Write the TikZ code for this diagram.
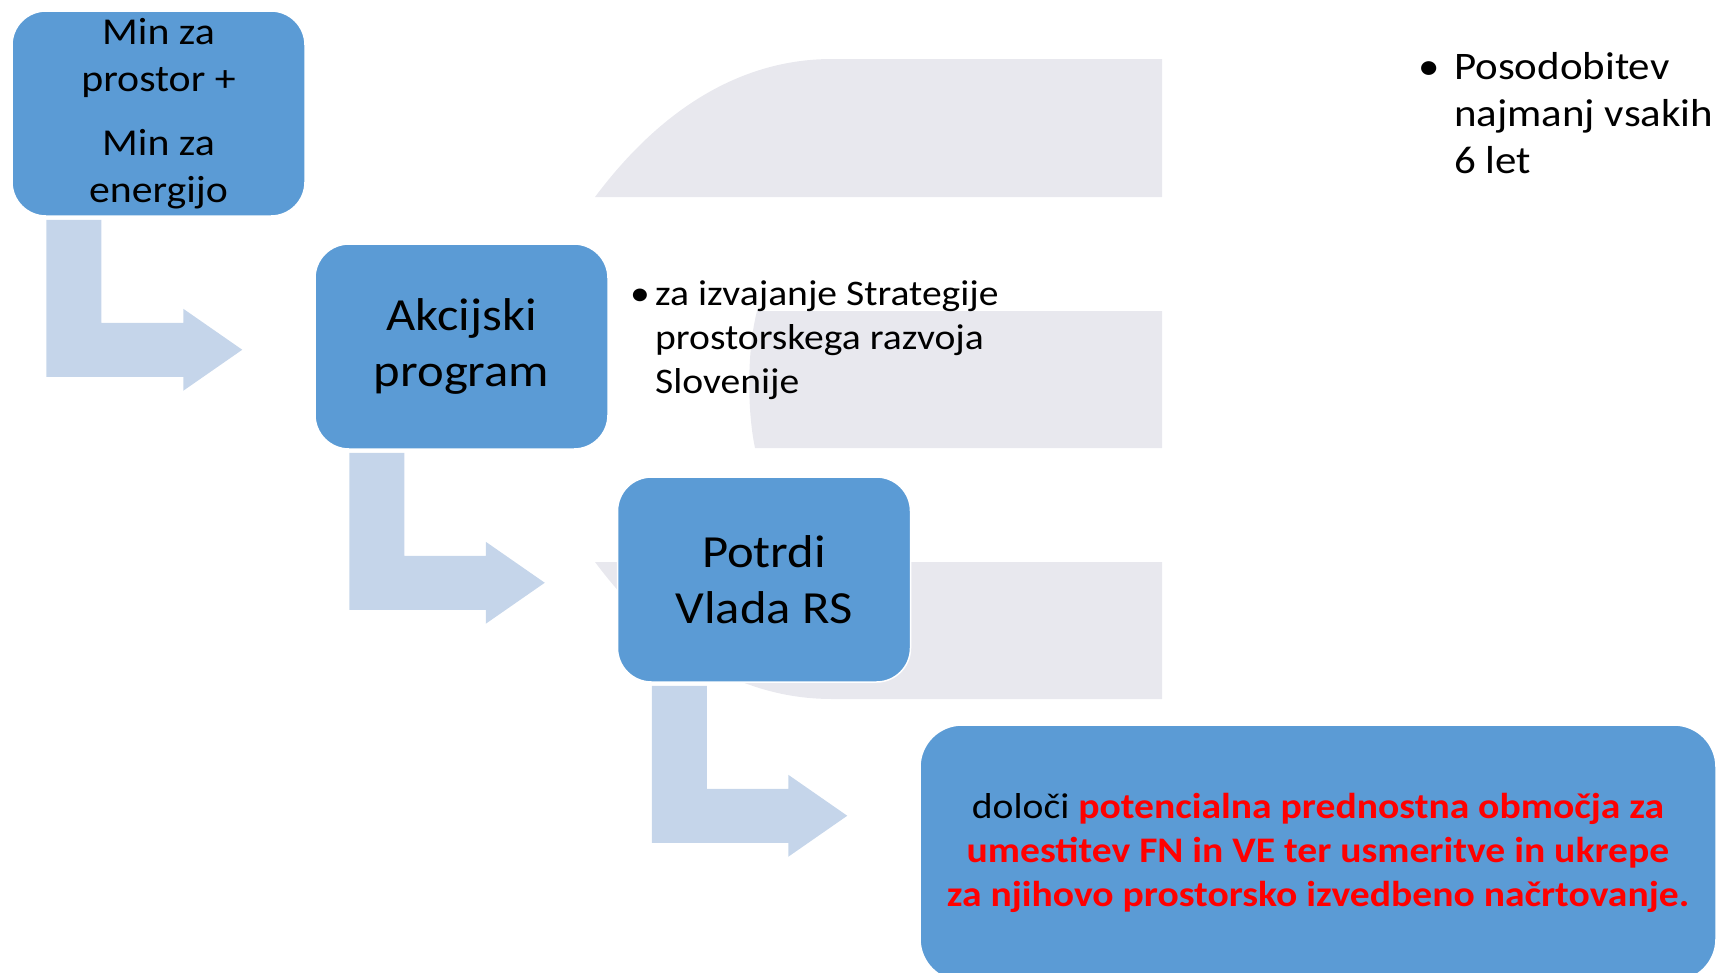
\documentclass[tikz,border=0pt]{standalone}
\usepackage{fontspec}
\setmainfont{Carlito}[FakeStretch=1.1]
\usetikzlibrary{calc}

\definecolor{boxblue}{RGB}{91,155,213}
\definecolor{arrowblue}{RGB}{197,213,234}
\definecolor{logogray}{RGB}{232,232,238}

% bent arrow from under one box to the left side of the next one
\newcommand\bendarrow[2]{%
  \fill[arrowblue] let \p1=(#1.south west), \p2=(#2.west) in
    (\x1+35pt,\y1-3pt) -- (\x1+90pt,\y1-3pt) -- (\x1+90pt,\y1-106pt)
    -- (\x2-131pt,\y1-106pt) -- (\x2-131pt,\y1-92pt) -- (\x2-72pt,\y1-133pt)
    -- (\x2-131pt,\y1-174pt) -- (\x2-131pt,\y1-160pt) -- (\x1+35pt,\y1-160pt) -- cycle;}

\begin{document}
\begin{tikzpicture}[x=1pt, y=-1pt,
  stage/.style={draw=white, line width=1.5pt, fill=boxblue, rounded corners=34pt,
    minimum width=293pt, minimum height=205pt, inner sep=0pt, align=center}]

  \useasboundingbox (0,0) rectangle (1716,972);
  \clip (0,0) rectangle (1716,972);

  % faded logo behind
  \fill[logogray] (595,197) .. controls (660,110) and (740,59) .. (832,59) -- (1162,59) -- (1162,197) -- cycle;
  \fill[logogray] (757,311) -- (1162,311) -- (1162,448) -- (755,448) .. controls (747,410) and (747,350) .. (757,311) -- cycle;
  \fill[logogray] (595,562) .. controls (660,649) and (740,699) .. (832,699) -- (1162,699) -- (1162,562) -- cycle;

  \node[stage, font=\fontsize{38}{47}\selectfont] (mins) at (158.5,113.5)
    {Min za\\prostor +\\[17pt]Min za\\energijo};
  \node[stage, font=\fontsize{46}{56}\selectfont] (akcija) at (461.5,346.5)
    {Akcijski\\program};
  \node[stage, font=\fontsize{46}{56}\selectfont] (vlada) at (764,579.5)
    {Potrdi\\Vlada RS};
  \node[stage, rounded corners=42pt, minimum width=796pt, minimum height=256pt,
    font=\fontsize{36}{44}\selectfont] (obmocja) at (1318,853)
    {določi \textcolor{red}{\bfseries potencialna prednostna območja za}\\
     \textcolor{red}{\bfseries umestitev FN in VE ter usmeritve in ukrepe}\\
     \textcolor{red}{\bfseries za njihovo prostorsko izvedbeno načrtovanje.}};

  \bendarrow{mins}{akcija}
  \bendarrow{akcija}{vlada}
  \bendarrow{vlada}{obmocja}

  \node[anchor=base west, inner sep=0pt, font=\fontsize{36}{44}\selectfont] (strategija) at (630,305)
    {\begin{tabular}[t]{@{}l@{}l@{}}
       \makebox[25pt][l]{\textbullet} & za izvajanje Strategije\\
       & prostorskega razvoja\\
       & Slovenije
     \end{tabular}};

  \node[anchor=base west, inner sep=0pt, font=\fontsize{39}{47}\selectfont] (posodobitev) at (1418,79)
    {\begin{tabular}[t]{@{}l@{}l@{}}
       \makebox[36pt][l]{\textbullet} & Posodobitev\\
       & najmanj vsakih\\
       & 6 let
     \end{tabular}};

\end{tikzpicture}
\end{document}
